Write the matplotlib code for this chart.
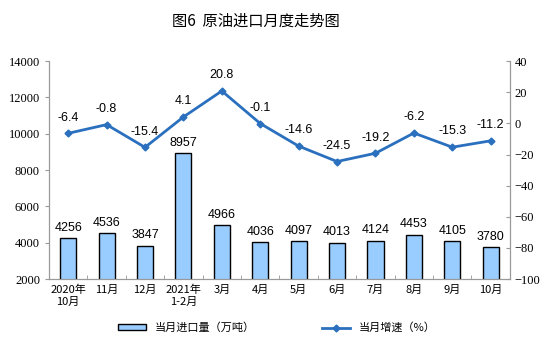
import matplotlib
matplotlib.use("Agg")
import matplotlib.pyplot as plt
import numpy as np

plt.rcParams['font.family'] = ['Noto Sans CJK SC', 'DejaVu Sans']

categories = ["2020年\n10月", "11月", "12月", "2021年\n1-2月", "3月", "4月", "5月",
              "6月", "7月", "8月", "9月", "10月"]
imports = [4256, 4536, 3847, 8957, 4966, 4036, 4097, 4013, 4124, 4453, 4105, 3780]
growth = [-6.4, -0.8, -15.4, 4.1, 20.8, -0.1, -14.6, -24.5, -19.2, -6.2, -15.3, -11.2]

fig = plt.figure(figsize=(5.54, 3.45), dpi=100)
ax = fig.add_axes([0.0884, 0.191, 0.832, 0.632])
ax2 = ax.twinx()

x = np.arange(len(categories))
bars = ax.bar(x, imports, width=0.42, color="#99CCFF", edgecolor="black", linewidth=1.0,
              label="当月进口量（万吨）", zorder=2)
ax.set_ylim(2000, 14000)
ax.set_yticks(np.arange(2000, 14001, 2000))
ax.set_xlim(-0.5, len(categories) - 0.5)
ax.set_xticks(x)
ax.set_xticklabels(categories, fontsize=8)
ax.set_xticks(np.arange(-0.5, len(categories), 1), minor=True)
ax.tick_params(axis='x', which='major', length=0, pad=4)
ax.tick_params(axis='x', which='minor', length=3, direction='in', color='#999999')
ax.tick_params(axis='y', length=3, color='#999999', direction='out')
for lab in ax.get_yticklabels():
    lab.set_fontfamily('Liberation Serif')
    lab.set_fontsize(9)

for xi, v in zip(x, imports):
    ax.annotate(f"{v}", (xi, v), xytext=(0, 3), textcoords='offset points',
                ha='center', va='bottom', fontsize=9, family='Liberation Sans')

ax2.plot(x, growth, color="#2B70BE", linewidth=2, marker='D', markersize=3.5,
         label="当月增速（%）", zorder=3)
ax2.set_ylim(-100, 40)
ax2.set_yticks(np.arange(-100, 41, 20))
ax2.tick_params(axis='y', length=3, color='#999999', direction='in')
for lab in ax2.get_yticklabels():
    lab.set_fontfamily('Liberation Serif')
    lab.set_fontsize(9)
for xi, v in zip(x, growth):
    ax2.annotate(f"{v}", (xi, v), xytext=(0, 7), textcoords='offset points',
                 ha='center', va='bottom', fontsize=9, family='Liberation Sans')

for a in (ax, ax2):
    a.spines['top'].set_visible(False)
    for s in ('left', 'right', 'bottom'):
        a.spines[s].set_color('#999999')
        a.spines[s].set_linewidth(0.8)

fig.text(0.462, 0.938, "图6  原油进口月度走势图", ha='center', va='center', fontsize=11)

h1, l1 = ax.get_legend_handles_labels()
h2, l2 = ax2.get_legend_handles_labels()
fig.legend(h1 + h2, l1 + l2, loc='center', bbox_to_anchor=(0.50, 0.05), ncol=2,
           frameon=False, fontsize=8, handlelength=2.5, handleheight=0.5,
           columnspacing=6)

fig.savefig("out.png", dpi=100)
